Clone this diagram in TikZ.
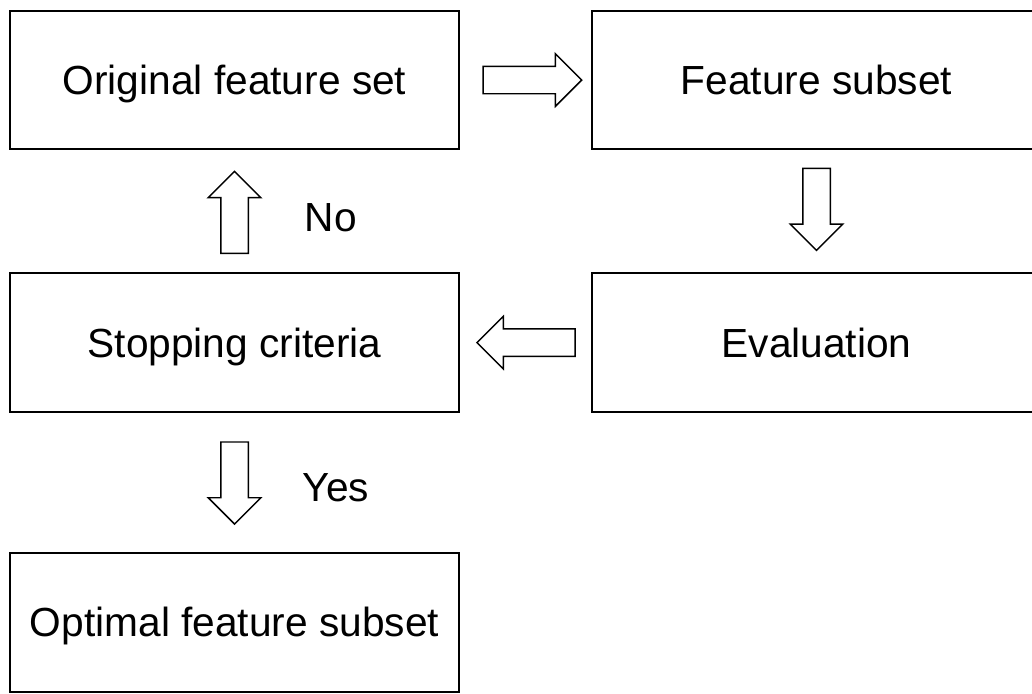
\documentclass[tikz,border=0pt]{standalone}
\usepackage{fontspec}
\setmainfont{Liberation Sans}
\usetikzlibrary{positioning, shapes.arrows}

\begin{document}
\begin{tikzpicture}[
    box/.style={rectangle, draw, line width=1.7pt, minimum width=336.75pt, minimum height=104pt, outer sep=0pt, text height=21.8pt, text depth=0pt, font=\fontsize{30.5}{36}\selectfont},
    bArrow/.style={single arrow, draw, line width=1.1pt, fill=white, inner sep=9.75pt, outer sep=0pt, single arrow head extend=9.4pt, minimum height=#1},
    lbl/.style={font=\fontsize{30.5}{36}\selectfont, inner sep=0pt, text height=21.8pt, text depth=0pt}
]
    \useasboundingbox (0,0) rectangle (774pt,-519.75pt);
    \node[box] (orig) at (175.9pt,-60pt) {Original feature set};
    \node[box, right=99.75pt of orig] (sub) {Feature subset};
    \node[box, below=93pt of orig] (stop) {Stopping criteria};
    \node[box, below=93pt of sub] (eval) {Evaluation};
    \node[box, below=105.75pt of stop] (opt) {Optimal feature subset};

    \node[bArrow=74pt, right=18pt of orig] (a1) {};
    \node[bArrow=61.5pt, shape border rotate=270, below=14.25pt of sub] (a2) {};
    \node[bArrow=73.5pt, shape border rotate=180, left=12.75pt of eval] (a3) {};
    \node[bArrow=61.5pt, shape border rotate=90, above=15pt of stop] (a4) {};
    \node[bArrow=61.5pt, shape border rotate=270, below=22.5pt of stop] (a5) {};

    \node[lbl, right=52.5pt of a4.center, yshift=2pt] (no) {No};
    \node[lbl, right=51pt of a5.center, yshift=-8pt] (yes) {Yes};
\end{tikzpicture}
\end{document}
